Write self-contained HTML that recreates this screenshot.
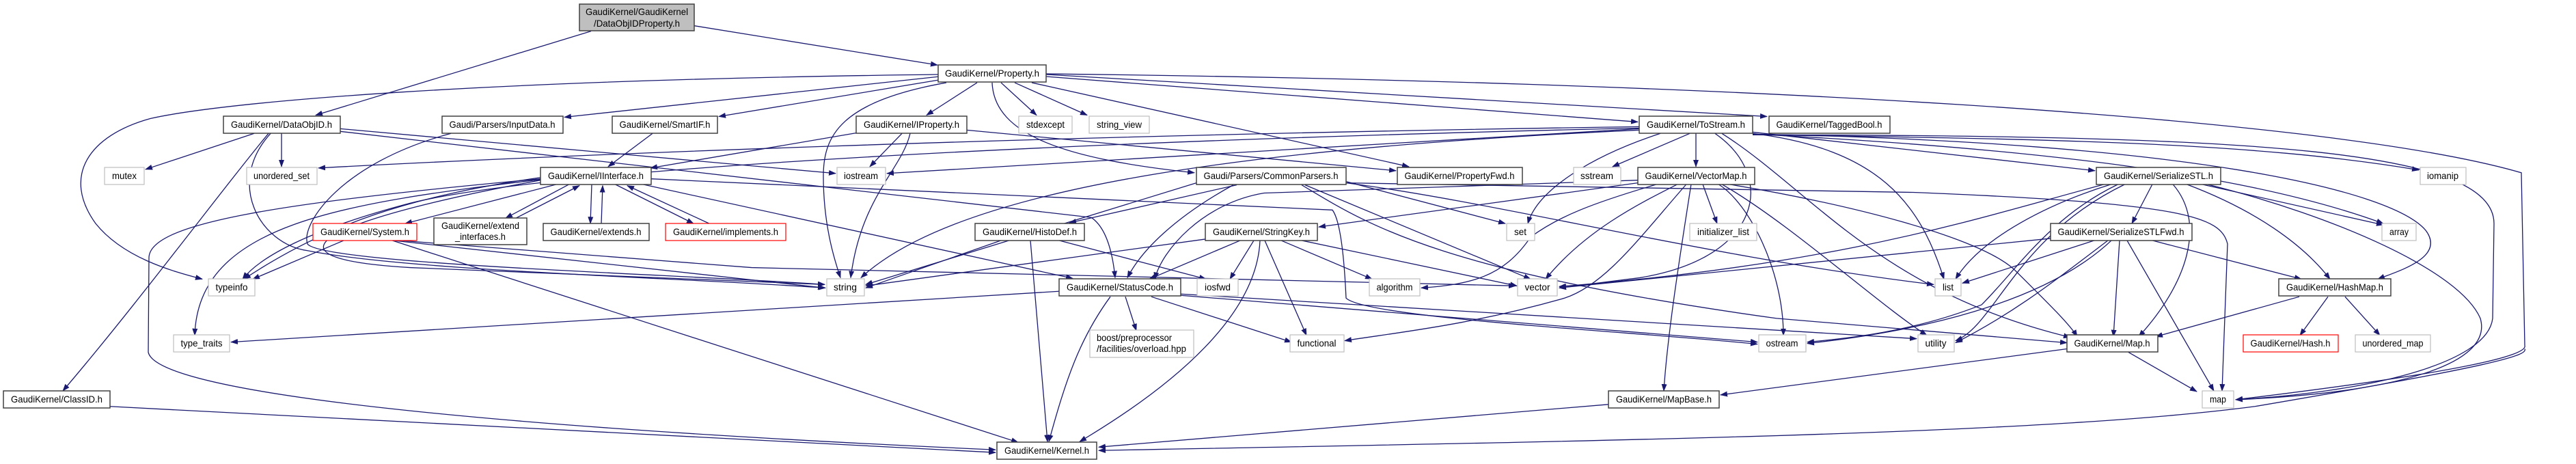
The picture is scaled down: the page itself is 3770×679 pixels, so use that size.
<!DOCTYPE html>
<html><head><meta charset="utf-8"><style>
html,body{margin:0;padding:0;background:#fff;}
svg{display:block;}
text{font-family:"Liberation Sans",sans-serif;font-size:14px;fill:#000;}
.e{fill:none;stroke:#191970;stroke-width:1.3;marker-end:url(#a);}
.n{fill:#fff;stroke:#404040;stroke-width:1.5;}
.s{fill:#fff;stroke:#bfbfbf;stroke-width:1.2;}
.r{fill:#fff;stroke:#ff0000;stroke-width:1.2;}
</style></head><body>
<svg width="3770" height="679" viewBox="0 0 3770 679" xmlns="http://www.w3.org/2000/svg">
<defs><marker id="a" markerWidth="11" markerHeight="8" refX="10" refY="4" orient="auto" markerUnits="userSpaceOnUse"><path d="M0,0 L11,4 L0,8z" fill="#191970"/></marker></defs>
<g transform="scale(1,0.9913)">
<!-- edges -->
<path class="e" d="M865,46 L462,170"/>
<path class="e" d="M1016,38 L1372,96"/>
<path class="e" d="M1373,110 C700,118 330,150 220,175 C130,200 90,260 140,330 C180,380 250,400 296,412"/>
<path class="e" d="M1375,113 L826,173"/>
<path class="e" d="M1380,117 L1052,172"/>
<path class="e" d="M1430,122 L1356,170"/>
<path class="e" d="M1385,122 C1230,150 1205,200 1205,260 C1205,330 1220,380 1230,410"/>
<path class="e" d="M1465,122 L1517,170"/>
<path class="e" d="M1485,122 L1591,170"/>
<path class="e" d="M1452,122 C1455,200 1560,235 1748,255"/>
<path class="e" d="M1510,122 L2062,246"/>
<path class="e" d="M1531,113 L2397,180"/>
<path class="e" d="M1531,110 L2586,172"/>
<path class="e" d="M1531,109 C2500,120 3400,170 3690,255 L3695,510 C3700,525 3600,550 3272,590"/>
<path class="e" d="M3695,515 C3700,525 3650,540 3300,600 C3000,640 2400,650 1608,665"/>
<path class="e" d="M372,197 L213,250"/>
<path class="e" d="M412,197 L412,246"/>
<path class="e" d="M393,197 C340,260 200,450 92,577"/>
<path class="e" d="M396,197 C330,270 380,360 450,370 C600,400 1000,410 1208,425"/>
<path class="e" d="M498,190 L1223,256"/>
<path class="e" d="M498,194 L1597,321 Q1625,340 1632,410"/>
<path class="e" d="M660,197 C500,240 440,330 450,360 C470,390 1000,405 1207,420"/>
<path class="e" d="M955,197 L890,246"/>
<path class="e" d="M1255,196 L952,248"/>
<path class="e" d="M1320,197 L1273,246"/>
<path class="e" d="M1332,197 C1320,250 1260,290 1245,410"/>
<path class="e" d="M1415,192 L2043,252"/>
<path class="e" d="M2399,187 C1500,200 800,230 466,248"/>
<path class="e" d="M2399,190 L1298,256"/>
<path class="e" d="M2399,192 C1800,220 1400,280 1260,410"/>
<path class="e" d="M2399,189 C1500,210 800,250 600,300 C450,340 380,380 355,412"/>
<path class="e" d="M2473,197 L2360,246"/>
<path class="e" d="M2482,197 L2482,246"/>
<path class="e" d="M2430,197 C2330,230 2250,280 2236,330"/>
<path class="e" d="M2510,197 C2600,260 2580,380 2400,410 L2282,425"/>
<path class="e" d="M2565,197 C2750,220 2810,300 2845,412"/>
<path class="e" d="M2520,197 C2650,280 2750,430 3030,498"/>
<path class="e" d="M2565,195 L3066,252"/>
<path class="e" d="M2565,198 C3000,220 3300,260 3488,330"/>
<path class="e" d="M2565,199 C3000,205 3300,210 3540,251"/>
<path class="e" d="M2565,198 C3200,210 3500,280 3550,340 C3580,380 3510,400 3480,412"/>
<path class="e" d="M2565,199 C3300,200 3650,220 3650,330 L3648,470 C3640,540 3450,580 3272,590"/>
<path class="e" d="M1751,270 L1267,420"/>
<path class="e" d="M1805,273 C1720,320 1670,370 1650,410"/>
<path class="e" d="M1810,273 L1565,329"/>
<path class="e" d="M1970,268 L2203,330"/>
<path class="e" d="M1910,273 L2240,412"/>
<path class="e" d="M1970,270 C2200,300 2500,380 2830,420"/>
<path class="e" d="M1905,273 C2000,330 2100,400 2600,470 L3025,506"/>
<path class="e" d="M1970,270 L2800,284 C3200,300 3250,320 3260,360 L3252,577"/>
<path class="e" d="M1465,355 L1267,425"/>
<path class="e" d="M1508,355 L1533,652"/>
<path class="e" d="M1550,355 L1765,412"/>
<path class="e" d="M1764,353 L1267,422"/>
<path class="e" d="M1815,355 L1682,412"/>
<path class="e" d="M1835,355 L1800,412"/>
<path class="e" d="M1844,355 C1840,450 1750,550 1580,652"/>
<path class="e" d="M1851,355 L1912,495"/>
<path class="e" d="M1875,355 L2008,412"/>
<path class="e" d="M1905,355 L2220,422"/>
<path class="e" d="M1550,430 L338,505"/>
<path class="e" d="M1647,438 L1663,488"/>
<path class="e" d="M1625,438 C1580,500 1560,560 1535,652"/>
<path class="e" d="M1685,438 L1890,505"/>
<path class="e" d="M1728,436 L2572,505"/>
<path class="e" d="M1728,434 L2805,500"/>
<path class="e" d="M815,272 L593,330"/>
<path class="e" d="M833,272 L740,322"/>
<path class="e" d="M755,322 L848,274"/>
<path class="e" d="M866,272 L864,330"/>
<path class="e" d="M880,330 L882,274"/>
<path class="e" d="M900,272 L1015,330"/>
<path class="e" d="M1038,330 L918,274"/>
<path class="e" d="M791,262 C600,290 480,330 357,412"/>
<path class="e" d="M791,265 C500,300 290,330 285,495"/>
<path class="e" d="M791,266 C500,320 350,380 600,395 L1207,420"/>
<path class="e" d="M940,272 L1570,411"/>
<path class="e" d="M791,264 C400,300 220,330 218,380 L217,520 C230,580 700,630 1457,664"/>
<path class="e" d="M953,264 L1950,310 Q1965,330 1970,440 C2000,470 2400,490 2572,508"/>
<path class="e" d="M503,355 L370,412"/>
<path class="e" d="M575,355 L1207,425"/>
<path class="e" d="M574,355 L1490,653"/>
<path class="e" d="M585,355 L1100,395 L2218,422"/>
<path class="e" d="M2397,270 L1930,335"/>
<path class="e" d="M2425,272 C2330,300 2280,320 2240,350 C2200,410 2150,420 2080,425"/>
<path class="e" d="M2455,272 C2400,300 2320,340 2262,412"/>
<path class="e" d="M2468,272 C2400,350 2350,420 2290,440 C2150,480 2050,490 1968,503"/>
<path class="e" d="M2492,272 L2513,330"/>
<path class="e" d="M2475,272 C2455,400 2440,500 2435,577"/>
<path class="e" d="M2515,272 C2560,300 2610,400 2610,495"/>
<path class="e" d="M2520,272 C2620,330 2750,450 2820,495"/>
<path class="e" d="M2530,272 C2700,300 2900,350 2950,400 C3000,450 3030,480 3040,497"/>
<path class="e" d="M2397,266 L1850,285 C1760,300 1700,370 1690,412"/>
<path class="e" d="M3150,272 L3120,330"/>
<path class="e" d="M3090,272 C3000,300 2900,350 2862,412"/>
<path class="e" d="M3080,272 C2900,320 2700,390 2282,423"/>
<path class="e" d="M3100,272 C3000,320 2950,400 2900,450 C2800,490 2700,500 2645,505"/>
<path class="e" d="M3110,272 C2950,350 2920,480 2862,503"/>
<path class="e" d="M3180,272 C3230,330 3200,420 3130,497"/>
<path class="e" d="M3200,272 C3300,310 3370,360 3410,412"/>
<path class="e" d="M3222,272 L3488,332"/>
<path class="e" d="M3230,272 C3420,320 3600,400 3630,470 C3650,540 3500,580 3272,590"/>
<path class="e" d="M3001,352 L2282,425"/>
<path class="e" d="M3065,355 L2872,418"/>
<path class="e" d="M3085,355 C3000,420 2950,460 2862,506"/>
<path class="e" d="M3102,355 L3093,497"/>
<path class="e" d="M3113,355 L3240,577"/>
<path class="e" d="M3150,355 L3368,412"/>
<path class="e" d="M3090,355 C2990,450 2800,490 2645,507"/>
<path class="e" d="M3365,438 L3155,497"/>
<path class="e" d="M3407,438 L3366,495"/>
<path class="e" d="M3432,438 L3483,495"/>
<path class="e" d="M3115,520 L3215,578"/>
<path class="e" d="M3025,515 L2518,583"/>
<path class="e" d="M2354,597 L1608,660"/>
<path class="e" d="M161,600 L1457,668"/>
</g>
<!-- nodes -->
<g>
<rect x="848" y="6" width="168" height="39" fill="#bfbfbf" stroke="#404040" stroke-width="1.5"/>
<text x="932" y="22" text-anchor="middle" textLength="150" lengthAdjust="spacingAndGlyphs">GaudiKernel/GaudiKernel</text>
<text x="932" y="39" text-anchor="middle" textLength="126" lengthAdjust="spacingAndGlyphs">/DataObjIDProperty.h</text>

<rect class="n" x="1373" y="95" width="158" height="25"/><text x="1452" y="112" text-anchor="middle" textLength="138" lengthAdjust="spacingAndGlyphs">GaudiKernel/Property.h</text>

<rect class="n" x="327" y="170" width="171" height="25"/><text x="412" y="187" text-anchor="middle" textLength="148" lengthAdjust="spacingAndGlyphs">GaudiKernel/DataObjID.h</text>
<rect class="n" x="647" y="170" width="177" height="25"/><text x="735" y="187" text-anchor="middle" textLength="155" lengthAdjust="spacingAndGlyphs">Gaudi/Parsers/InputData.h</text>
<rect class="n" x="896" y="170" width="154" height="25"/><text x="973" y="187" text-anchor="middle" textLength="133" lengthAdjust="spacingAndGlyphs">GaudiKernel/SmartIF.h</text>
<rect class="n" x="1253" y="170" width="162" height="25"/><text x="1334" y="187" text-anchor="middle" textLength="140" lengthAdjust="spacingAndGlyphs">GaudiKernel/IProperty.h</text>
<rect class="s" x="1491" y="170" width="78" height="25"/><text x="1530" y="187" text-anchor="middle" textLength="56" lengthAdjust="spacingAndGlyphs">stdexcept</text>
<rect class="s" x="1594" y="170" width="88" height="25"/><text x="1638" y="187" text-anchor="middle" textLength="66" lengthAdjust="spacingAndGlyphs">string_view</text>
<rect class="n" x="2399" y="170" width="166" height="25"/><text x="2482" y="187" text-anchor="middle" textLength="144" lengthAdjust="spacingAndGlyphs">GaudiKernel/ToStream.h</text>
<rect class="n" x="2589" y="170" width="177" height="25"/><text x="2677" y="187" text-anchor="middle" textLength="155" lengthAdjust="spacingAndGlyphs">GaudiKernel/TaggedBool.h</text>

<rect class="s" x="153" y="245" width="58" height="25"/><text x="182" y="262" text-anchor="middle" textLength="36" lengthAdjust="spacingAndGlyphs">mutex</text>
<rect class="s" x="361" y="245" width="103" height="25"/><text x="412" y="262" text-anchor="middle" textLength="82" lengthAdjust="spacingAndGlyphs">unordered_set</text>
<rect class="n" x="791" y="245" width="162" height="25"/><text x="872" y="262" text-anchor="middle" textLength="140" lengthAdjust="spacingAndGlyphs">GaudiKernel/IInterface.h</text>
<rect class="s" x="1225" y="245" width="71" height="25"/><text x="1260" y="262" text-anchor="middle" textLength="50" lengthAdjust="spacingAndGlyphs">iostream</text>
<rect class="n" x="1751" y="245" width="219" height="25"/><text x="1860" y="262" text-anchor="middle" textLength="197" lengthAdjust="spacingAndGlyphs">Gaudi/Parsers/CommonParsers.h</text>
<rect class="n" x="2045" y="245" width="183" height="25"/><text x="2136" y="262" text-anchor="middle" textLength="161" lengthAdjust="spacingAndGlyphs">GaudiKernel/PropertyFwd.h</text>
<rect class="s" x="2303" y="245" width="69" height="25"/><text x="2337" y="262" text-anchor="middle" textLength="48" lengthAdjust="spacingAndGlyphs">sstream</text>
<rect class="n" x="2397" y="245" width="171" height="25"/><text x="2482" y="262" text-anchor="middle" textLength="149" lengthAdjust="spacingAndGlyphs">GaudiKernel/VectorMap.h</text>
<rect class="n" x="3068" y="245" width="182" height="25"/><text x="3159" y="262" text-anchor="middle" textLength="160" lengthAdjust="spacingAndGlyphs">GaudiKernel/SerializeSTL.h</text>
<rect class="s" x="3542" y="245" width="67" height="25"/><text x="3575" y="262" text-anchor="middle" textLength="46" lengthAdjust="spacingAndGlyphs">iomanip</text>

<rect class="r" x="458" y="327" width="152" height="25"/><text x="534" y="344" text-anchor="middle" textLength="130" lengthAdjust="spacingAndGlyphs">GaudiKernel/System.h</text>
<rect class="n" x="635" y="319" width="136" height="39"/><text x="703" y="335" text-anchor="middle" textLength="114" lengthAdjust="spacingAndGlyphs">GaudiKernel/extend</text><text x="703" y="351" text-anchor="middle" textLength="74" lengthAdjust="spacingAndGlyphs">_interfaces.h</text>
<rect class="n" x="795" y="327" width="155" height="25"/><text x="872" y="344" text-anchor="middle" textLength="133" lengthAdjust="spacingAndGlyphs">GaudiKernel/extends.h</text>
<rect class="r" x="974" y="327" width="176" height="25"/><text x="1062" y="344" text-anchor="middle" textLength="154" lengthAdjust="spacingAndGlyphs">GaudiKernel/implements.h</text>
<rect class="n" x="1427" y="327" width="160" height="25"/><text x="1507" y="344" text-anchor="middle" textLength="138" lengthAdjust="spacingAndGlyphs">GaudiKernel/HistoDef.h</text>
<rect class="n" x="1764" y="327" width="164" height="25"/><text x="1846" y="344" text-anchor="middle" textLength="142" lengthAdjust="spacingAndGlyphs">GaudiKernel/StringKey.h</text>
<rect class="s" x="2205" y="327" width="41" height="25"/><text x="2225" y="344" text-anchor="middle" textLength="18" lengthAdjust="spacingAndGlyphs">set</text>
<rect class="s" x="2473" y="327" width="98" height="25"/><text x="2522" y="344" text-anchor="middle" textLength="76" lengthAdjust="spacingAndGlyphs">initializer_list</text>
<rect class="n" x="3001" y="327" width="207" height="25"/><text x="3104" y="344" text-anchor="middle" textLength="185" lengthAdjust="spacingAndGlyphs">GaudiKernel/SerializeSTLFwd.h</text>
<rect class="s" x="3486" y="327" width="50" height="25"/><text x="3511" y="344" text-anchor="middle" textLength="28" lengthAdjust="spacingAndGlyphs">array</text>

<rect class="s" x="305" y="408" width="68" height="25"/><text x="339" y="425" text-anchor="middle" textLength="47" lengthAdjust="spacingAndGlyphs">typeinfo</text>
<rect class="s" x="1210" y="408" width="55" height="25"/><text x="1237" y="425" text-anchor="middle" textLength="34" lengthAdjust="spacingAndGlyphs">string</text>
<rect class="n" x="1550" y="408" width="178" height="25"/><text x="1639" y="425" text-anchor="middle" textLength="156" lengthAdjust="spacingAndGlyphs">GaudiKernel/StatusCode.h</text>
<rect class="s" x="1752" y="408" width="60" height="25"/><text x="1782" y="425" text-anchor="middle" textLength="38" lengthAdjust="spacingAndGlyphs">iosfwd</text>
<rect class="s" x="2004" y="408" width="74" height="25"/><text x="2041" y="425" text-anchor="middle" textLength="53" lengthAdjust="spacingAndGlyphs">algorithm</text>
<rect class="s" x="2221" y="408" width="58" height="25"/><text x="2250" y="425" text-anchor="middle" textLength="37" lengthAdjust="spacingAndGlyphs">vector</text>
<rect class="s" x="2832" y="408" width="38" height="25"/><text x="2851" y="425" text-anchor="middle" textLength="16" lengthAdjust="spacingAndGlyphs">list</text>
<rect class="n" x="3335" y="408" width="164" height="25"/><text x="3417" y="425" text-anchor="middle" textLength="142" lengthAdjust="spacingAndGlyphs">GaudiKernel/HashMap.h</text>

<rect class="s" x="254" y="490" width="82" height="25"/><text x="295" y="507" text-anchor="middle" textLength="61" lengthAdjust="spacingAndGlyphs">type_traits</text>
<rect class="s" x="1595" y="483" width="152" height="40"/><text x="1605" y="499" textLength="110" lengthAdjust="spacingAndGlyphs">boost/preprocessor</text><text x="1605" y="515" textLength="131" lengthAdjust="spacingAndGlyphs">/facilities/overload.hpp</text>
<rect class="s" x="1888" y="490" width="79" height="25"/><text x="1927" y="507" text-anchor="middle" textLength="57" lengthAdjust="spacingAndGlyphs">functional</text>
<rect class="s" x="2574" y="490" width="69" height="25"/><text x="2608" y="507" text-anchor="middle" textLength="47" lengthAdjust="spacingAndGlyphs">ostream</text>
<rect class="s" x="2807" y="490" width="53" height="25"/><text x="2833" y="507" text-anchor="middle" textLength="31" lengthAdjust="spacingAndGlyphs">utility</text>
<rect class="n" x="3025" y="490" width="133" height="25"/><text x="3091" y="507" text-anchor="middle" textLength="111" lengthAdjust="spacingAndGlyphs">GaudiKernel/Map.h</text>
<rect class="r" x="3283" y="490" width="139" height="25"/><text x="3352" y="507" text-anchor="middle" textLength="117" lengthAdjust="spacingAndGlyphs">GaudiKernel/Hash.h</text>
<rect class="s" x="3447" y="490" width="110" height="25"/><text x="3502" y="507" text-anchor="middle" textLength="89" lengthAdjust="spacingAndGlyphs">unordered_map</text>

<rect class="n" x="5" y="572" width="156" height="25"/><text x="83" y="589" text-anchor="middle" textLength="134" lengthAdjust="spacingAndGlyphs">GaudiKernel/ClassID.h</text>
<rect class="n" x="2354" y="572" width="162" height="25"/><text x="2435" y="589" text-anchor="middle" textLength="140" lengthAdjust="spacingAndGlyphs">GaudiKernel/MapBase.h</text>
<rect class="s" x="3223" y="572" width="46" height="25"/><text x="3246" y="589" text-anchor="middle" textLength="24" lengthAdjust="spacingAndGlyphs">map</text>

<rect class="n" x="1459" y="647" width="146" height="25"/><text x="1532" y="664" text-anchor="middle" textLength="124" lengthAdjust="spacingAndGlyphs">GaudiKernel/Kernel.h</text>
</g>
</svg>
</body></html>
